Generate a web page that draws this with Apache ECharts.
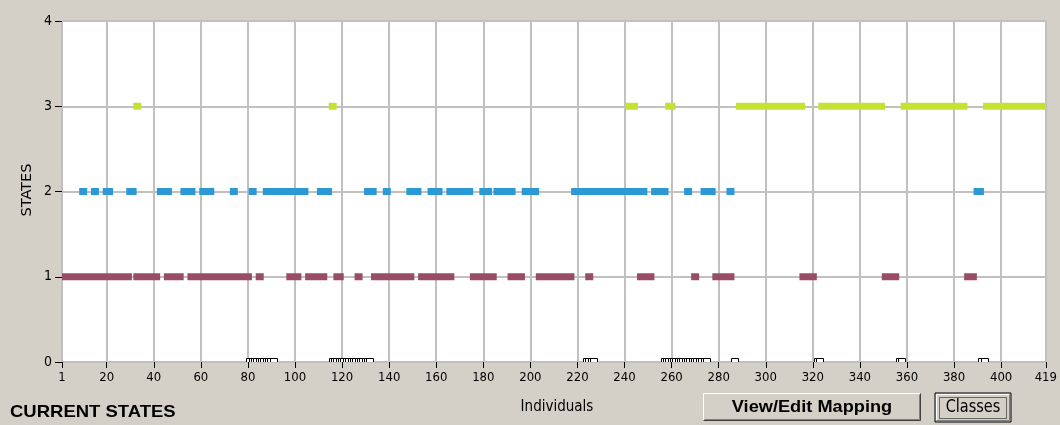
<!DOCTYPE html>
<html>
<head>
<meta charset="utf-8">
<script src="https://cdn.jsdelivr.net/npm/echarts@6/dist/echarts.min.js"></script>
<style>
html,body{margin:0;padding:0;background:#d4d0c8;}
#c{width:1060px;height:425px;}
</style>
</head>
<body>
<div id="c"></div>
<script>
// ---- data: runs of consecutive individuals [first, last] in each state ----
const state0Runs = [[81,91],[116,132],[224,227],[257,275],[287,287],[322,323],[357,358],[392,393]];
const state1Runs = [[1,29],[33,41],[46,51],[56,80],[85,85],[98,101],[106,112],[118,119],[127,127],[134,149],[154,166],[176,184],[192,196],[204,217],[225,225],[247,251],[270,270],[279,285],[316,320],[351,355],[386,388]];
const state2Runs = [[10,10],[15,15],[20,21],[30,31],[43,46],[53,56],[61,64],[74,74],[82,82],[88,104],[111,114],[131,133],[139,139],[149,152],[158,161],[166,174],[180,182],[186,192],[198,202],[219,248],[253,257],[267,267],[274,277],[285,285],[390,391]];
const state3Runs = [[33,33],[116,116],[242,244],[259,260],[289,315],[324,349],[359,384],[394,419]];
const xTicks = [1,20,40,60,80,100,120,140,160,180,200,220,240,260,280,300,320,340,360,380,400,419];
const yTicks = [0,1,2,3,4];
const stateColors = ['#ffffff','#984c68','#2c98d4','#c4e234'];

const FONT = "'DejaVu Sans Condensed','Liberation Sans Narrow','Liberation Sans',Arial,sans-serif";
const FONT2 = "'Liberation Sans',Arial,sans-serif";

function runSeries(runs, state){
  return {
    type:'custom',
    clip:true,
    data: runs.map(r => [r[0], r[1], state]),
    renderItem: function(params, api){
      const s = api.value(0), e = api.value(1), st = api.value(2);
      const p1 = api.coord([s, st]);
      const p2 = api.coord([e, st]);
      return {
        type:'rect',
        shape:{x:p1[0]-4, y:p1[1]-3.5, width:(p2[0]-p1[0])+8, height:7},
        style:{fill:stateColors[st]}
      };
    }
  };
}

function zeroSeries(runs){
  return {
    type:'custom',
    clip:true,
    data: runs.map(r => [r[0], r[1], 0]),
    renderItem: function(params, api){
      const s = api.value(0), e = api.value(1);
      const children = [];
      for(let i=s;i<=e;i++){
        const p = api.coord([i, 0]);
        children.push({
          type:'rect',
          shape:{x:Math.round(p[0]-4)+0.5, y:Math.round(p[1]-4)+0.5, width:7, height:8},
          style:{fill:'#ffffff', stroke:'#000000', lineWidth:1}
        });
      }
      return {type:'group', children: children};
    }
  };
}

const chart = echarts.init(document.getElementById('c'), null, {renderer:'canvas'});
const option = {
  backgroundColor:'#d4d0c8',
  animation:false,
  grid:{left:62, right:13, top:21, bottom:63, show:true, backgroundColor:'#ffffff', borderWidth:0},
  xAxis:{
    type:'value', min:1, max:419,
    axisLine:{show:false},
    axisTick:{show:true, length:6, customValues:xTicks, lineStyle:{color:'#000', width:1}},
    axisLabel:{customValues:xTicks, margin:9, color:'#000', fontFamily:FONT, fontSize:13},
    splitLine:{show:true, lineStyle:{color:'#c0c0c0', width:2}}
  },
  yAxis:{
    type:'value', min:0, max:4, interval:1,
    axisLine:{show:false},
    axisTick:{show:true, length:7, lineStyle:{color:'#000', width:1}},
    axisLabel:{margin:10, color:'#000', fontFamily:FONT, fontSize:14},
    splitLine:{show:true, lineStyle:{color:'#c0c0c0', width:2}}
  },
  series:[
    zeroSeries(state0Runs),
    runSeries(state1Runs,1),
    runSeries(state2Runs,2),
    runSeries(state3Runs,3)
  ],
  graphic:[
    {type:'text', x:27, y:190, rotation:Math.PI/2, scaleX:1.25, scaleY:1.1, style:{text:'STATES', fill:'#000', font:"13px "+FONT, textAlign:'center', textVerticalAlign:'middle'}},
    {type:'text', x:557, y:407, scaleY:1.1, style:{text:'Individuals', fill:'#000', font:"15px "+FONT, textAlign:'center', textVerticalAlign:'middle'}},
    {type:'text', x:10, y:412, scaleX:1.32, scaleY:1.2, style:{text:'CURRENT STATES', fill:'#000', font:"bold 14px "+FONT2, textAlign:'left', textVerticalAlign:'middle'}},
    // View/Edit Mapping button
    {type:'rect', shape:{x:703, y:393, width:218, height:28}, style:{fill:'#d4d0c8', stroke:null}},
    {type:'polyline', shape:{points:[[703.5,420.5],[703.5,393.5],[920.5,393.5]]}, style:{stroke:'#ffffff', lineWidth:1, fill:null}},
    {type:'polyline', shape:{points:[[703.5,420.5],[920.5,420.5],[920.5,393.5]]}, style:{stroke:'#404040', lineWidth:1, fill:null}},
    {type:'polyline', shape:{points:[[704.5,419.5],[919.5,419.5],[919.5,394.5]]}, style:{stroke:'#808080', lineWidth:1, fill:null}},
    {type:'text', x:812, y:408, scaleX:1.3, scaleY:1.15, style:{text:'View/Edit Mapping', fill:'#000', font:"bold 14px "+FONT2, textAlign:'center', textVerticalAlign:'middle'}},
    // Classes button
    {type:'rect', shape:{x:935, y:393, width:76, height:29}, style:{fill:'#d4d0c8', stroke:'#000', lineWidth:1}},
    {type:'polyline', shape:{points:[[936.5,420.5],[936.5,394.5],[1009.5,394.5]]}, style:{stroke:'#ffffff', lineWidth:1, fill:null}},
    {type:'polyline', shape:{points:[[936.5,420.5],[1009.5,420.5],[1009.5,394.5]]}, style:{stroke:'#808080', lineWidth:1, fill:null}},
    {type:'rect', shape:{x:939.5, y:397.5, width:67, height:21}, style:{fill:null, stroke:'#000', lineWidth:1, lineDash:[1,1]}},
    {type:'text', x:973, y:408, scaleX:1.15, scaleY:1.2, style:{text:'Classes', fill:'#000', font:"14px "+FONT, textAlign:'center', textVerticalAlign:'middle'}}
  ]
};
chart.setOption(option);
</script>
</body>
</html>
